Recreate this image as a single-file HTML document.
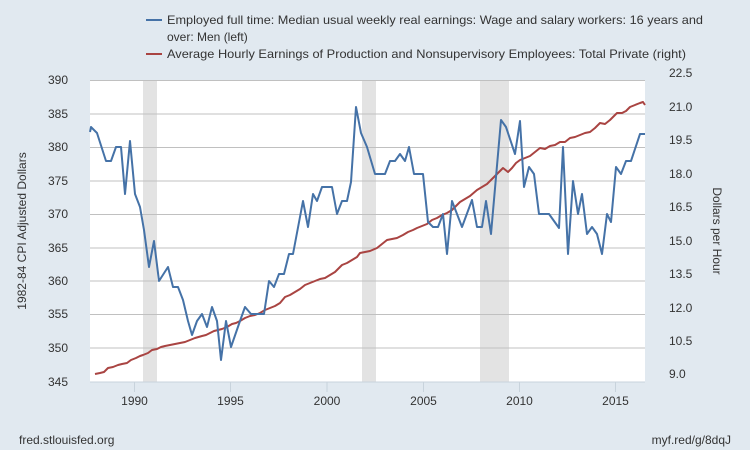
<!DOCTYPE html>
<html><head><meta charset="utf-8"><style>body{margin:0;background:#e1e9f0}svg{display:block;font-family:"Liberation Sans",sans-serif}</style></head><body>
<svg width="750" height="450" viewBox="0 0 750 450">
<rect width="750" height="450" fill="#e1e9f0"/>
<rect x="90" y="80" width="555" height="302" fill="#fff"/>
<rect x="143" y="80" width="14" height="302" fill="#e3e3e3"/>
<rect x="362" y="80" width="14" height="302" fill="#e3e3e3"/>
<rect x="480" y="80" width="29" height="302" fill="#e3e3e3"/>
<g stroke="#c0c0c0" stroke-width="1">
<line x1="90" x2="645" y1="80.5" y2="80.5"/><line x1="90" x2="645" y1="114" y2="114"/><line x1="90" x2="645" y1="147.5" y2="147.5"/><line x1="90" x2="645" y1="181" y2="181"/><line x1="90" x2="645" y1="214.5" y2="214.5"/><line x1="90" x2="645" y1="248" y2="248"/><line x1="90" x2="645" y1="281" y2="281"/><line x1="90" x2="645" y1="314.5" y2="314.5"/><line x1="90" x2="645" y1="348" y2="348"/>
</g>
<line x1="90" x2="645" y1="382" y2="382" stroke="#c8d3dc"/>
<g stroke="#c8d3dc"><line x1="134.5" x2="134.5" y1="382" y2="392"/><line x1="230.5" x2="230.5" y1="382" y2="392"/><line x1="327" x2="327" y1="382" y2="392"/><line x1="423.5" x2="423.5" y1="382" y2="392"/><line x1="519.5" x2="519.5" y1="382" y2="392"/><line x1="615.5" x2="615.5" y1="382" y2="392"/></g>
<polyline fill="none" stroke="#a94442" stroke-width="2" stroke-linejoin="round" points="95,374 100,373 104,372 108,368 113,367 118,365 122,364 127,363 131,360 136,358 140,356 143,355 148,353 152,350 157,349 161,347 165,346 170,345 175,344 180,343 185,342 190,340 195,338 202,336 206,335 210,333 214,331 218,330 222,329 227,327 232,324 236,323 240,321 245,318 250,316 255,315 260,313 265,310 270,308 275,306 280,303 285,297 290,295 295,292 300,289 305,285 310,283 315,281 320,279 325,278 330,275 335,272 342,265 347,263 352,260 357,257 360,253 365,252 370,251 377,248 382,244 387,240 392,239 397,238 403,235 408,232 413,230 417,228 422,226 427,224 432,220 437,218 442,215 447,213 452,210 456,206 460,202 465,199 470,196 477,190 482,187 487,184 493,178 498,173 503,168 508,172 512,168 516,163 520,160 525,158 530,156 535,152 540,148 545,149 550,146 555,145 560,142 565,142 570,138 575,137 580,135 585,133 590,132 595,128 600,123 605,124 610,120 617,113 622,113 626,111 630,107 635,105 640,103 643,102 645,105"/>
<polyline fill="none" stroke="#4572a7" stroke-width="2" stroke-linejoin="round" points="90,132 91,127 97,133 106,161 111,161 116,147 121,147 125,194 130,141 135,194 140,207 144,230 149,267 154,241 159,281 168,267 173,287 178,287 183,300 188,321 192,335 197,321 202,314 207,327 212,307 217,321 221,360 226,321 231,347 240,321 245,307 251,314 264,314 269,281 274,287 279,274 284,274 289,254 293,254 303,201 308,227 313,194 317,201 322,187 332,187 337,214 342,201 347,201 351,182 356,107 361,133 367,147 375,174 385,174 390,161 395,161 400,154 405,161 409,147 414,174 423,174 428,222 433,227 438,227 443,214 447,254 452,201 462,227 472,200 477,227 482,227 486,201 491,234 501,120 506,127 515,154 520,121 524,187 529,167 534,174 539,214 549,214 559,228 563,147 568,254 573,181 578,214 582,194 587,234 592,227 597,234 602,254 607,214 611,222 616,167 621,174 626,161 631,161 640,134 645,134"/>
<g font-size="12" fill="#333" text-anchor="end">
<text x="68" y="84">390</text><text x="68" y="118">385</text><text x="68" y="151">380</text><text x="68" y="185">375</text><text x="68" y="218">370</text><text x="68" y="252">365</text><text x="68" y="285">360</text><text x="68" y="318">355</text><text x="68" y="352">350</text><text x="68" y="386">345</text>
</g>
<g font-size="12" fill="#333" text-anchor="start">
<text x="669" y="77">22.5</text><text x="669" y="111">21.0</text><text x="669" y="144">19.5</text><text x="669" y="178">18.0</text><text x="669" y="211">16.5</text><text x="669" y="245">15.0</text><text x="669" y="278">13.5</text><text x="669" y="312">12.0</text><text x="669" y="345">10.5</text><text x="669" y="378">9.0</text>
</g>
<g font-size="12" fill="#333" text-anchor="middle">
<text x="134.5" y="405">1990</text><text x="230.5" y="405">1995</text><text x="327" y="405">2000</text><text x="423.5" y="405">2005</text><text x="519.5" y="405">2010</text><text x="615.5" y="405">2015</text>
</g>
<text transform="translate(26,231) rotate(-90)" font-size="12" fill="#333" text-anchor="middle">1982-84 CPI Adjusted Dollars</text>
<text transform="translate(713,231) rotate(90)" font-size="12" fill="#333" text-anchor="middle">Dollars per Hour</text>
<line x1="146" x2="162" y1="20" y2="20" stroke="#4572a7" stroke-width="2"/>
<line x1="146" x2="162" y1="54" y2="54" stroke="#a94442" stroke-width="2"/>
<g font-size="12" fill="#333">
<text x="167" y="24" textLength="536" lengthAdjust="spacingAndGlyphs">Employed full time: Median usual weekly real earnings: Wage and salary workers: 16 years and</text>
<text x="167" y="41">over: Men (left)</text>
<text x="167" y="58" textLength="519" lengthAdjust="spacingAndGlyphs">Average Hourly Earnings of Production and Nonsupervisory Employees: Total Private (right)</text>
</g>
<text x="19" y="444" font-size="12" fill="#333">fred.stlouisfed.org</text>
<text x="731" y="444" font-size="12" fill="#333" text-anchor="end">myf.red/g/8dqJ</text>
</svg>
</body></html>
